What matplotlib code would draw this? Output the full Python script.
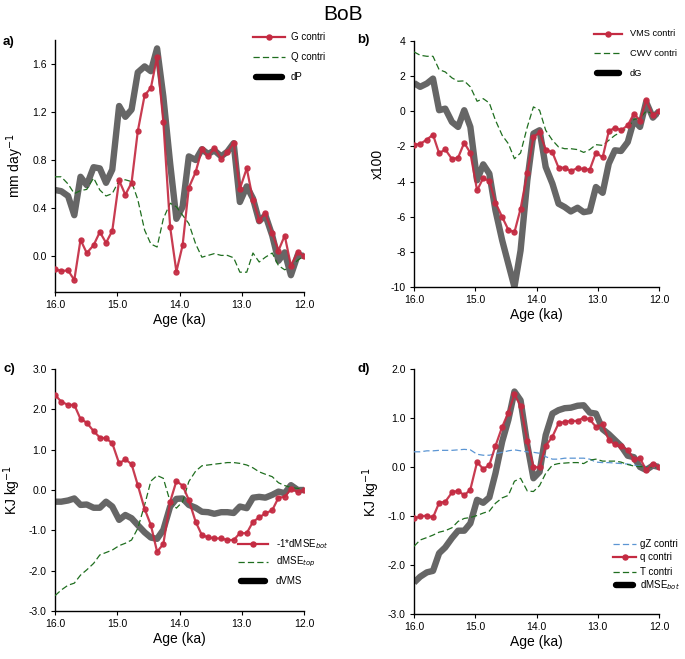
import numpy as np
import matplotlib
matplotlib.use('Agg')
import matplotlib.pyplot as plt
from matplotlib.lines import Line2D

plt.rcParams['font.family'] = ['Liberation Sans', 'DejaVu Sans']
plt.rcParams['axes.unicode_minus'] = False

# 40 samples between 16.0 and 12.0 ka
age = [16.00, 15.90, 15.79, 15.69, 15.59, 15.49, 15.38, 15.28, 15.18, 15.08,
       14.97, 14.87, 14.77, 14.67, 14.56, 14.46, 14.36, 14.26, 14.15, 14.05,
       13.95, 13.85, 13.74, 13.64, 13.54, 13.44, 13.33, 13.23, 13.13, 13.03,
       12.92, 12.82, 12.72, 12.62, 12.51, 12.41, 12.31, 12.21, 12.10, 12.00]

# a) precipitation decomposition (mm/day)
g_contri = [-0.11, -0.125, -0.12, -0.20, 0.135, 0.025, 0.09, 0.20, 0.11, 0.21,
            0.63, 0.51, 0.61, 1.04, 1.34, 1.40, 1.66, 1.12, 0.24, -0.13,
            0.09, 0.57, 0.70, 0.89, 0.83, 0.90, 0.81, 0.865, 0.945, 0.56,
            0.73, 0.47, 0.30, 0.355, 0.19, 0.045, 0.17, -0.08, 0.035, 0.0]
q_contri = [0.66, 0.66, 0.60, 0.52, 0.545, 0.555, 0.65, 0.55, 0.50, 0.52,
            0.63, 0.635, 0.62, 0.47, 0.215, 0.10, 0.075, 0.31, 0.44, 0.41,
            0.34, 0.27, 0.10, -0.01, 0.005, 0.02, 0.005, 0.005, -0.015, -0.135,
            -0.135, 0.025, -0.05, -0.01, 0.025, -0.08, -0.115, -0.09, -0.035, 0.0]
dP = [0.55, 0.54, 0.50, 0.34, 0.66, 0.59, 0.74, 0.73, 0.61, 0.72,
      1.25, 1.16, 1.22, 1.53, 1.58, 1.54, 1.73, 1.33, 0.77, 0.31,
      0.41, 0.83, 0.80, 0.89, 0.85, 0.88, 0.83, 0.87, 0.94, 0.45,
      0.58, 0.48, 0.29, 0.34, 0.17, -0.04, 0.03, -0.16, 0.01, 0.0]

# b) gross moist stability decomposition (x100)
vms_contri = [-1.90, -1.86, -1.61, -1.33, -2.39, -2.17, -2.72, -2.64, -1.79, -2.37,
              -4.50, -3.80, -3.97, -5.20, -6.02, -6.74, -6.88, -5.55, -3.51, -1.46,
              -1.20, -2.18, -2.34, -3.21, -3.21, -3.40, -3.23, -3.29, -3.32, -2.36,
              -2.62, -1.14, -0.93, -1.08, -0.80, -0.13, -0.53, 0.63, -0.23, 0.0]
cwv_contri = [3.38, 3.19, 3.13, 3.13, 2.37, 2.24, 1.90, 1.71, 1.73, 1.39,
              0.57, 0.72, 0.47, -0.51, -1.37, -1.84, -2.70, -2.37, -0.89, 0.25,
              0.06, -1.08, -1.65, -2.03, -2.13, -2.13, -2.18, -2.34, -2.18, -1.90,
              -1.94, -1.65, -1.37, -1.18, -0.95, -0.47, -0.38, 0.0, -0.13, 0.0]
dG = [1.61, 1.39, 1.58, 1.86, 0.06, 0.15, -0.61, -0.89, 0.06, -0.89,
      -3.93, -3.02, -3.55, -5.64, -7.35, -8.68, -10.0, -7.92, -3.93, -1.27,
      -1.08, -3.17, -4.12, -5.26, -5.45, -5.70, -5.49, -5.74, -5.68, -4.31,
      -4.64, -2.98, -2.22, -2.26, -1.75, -0.51, -0.89, 0.53, -0.36, 0.0]

# c) vertical MSE (KJ/kg)
neg_mse_bot = [2.36, 2.19, 2.11, 2.11, 1.76, 1.67, 1.46, 1.30, 1.28, 1.16,
               0.66, 0.76, 0.64, 0.12, -0.47, -0.87, -1.53, -1.34, -0.29, 0.22,
               0.11, -0.25, -0.79, -1.12, -1.17, -1.20, -1.20, -1.24, -1.24, -1.07,
               -1.07, -0.79, -0.68, -0.58, -0.50, -0.19, -0.17, 0.02, -0.04, 0.0]
mse_top = [-2.62, -2.48, -2.36, -2.31, -2.11, -1.98, -1.82, -1.61, -1.55, -1.49,
           -1.38, -1.32, -1.24, -0.95, -0.37, 0.22, 0.36, 0.29, -0.29, -0.45,
           -0.29, 0.21, 0.47, 0.60, 0.62, 0.64, 0.66, 0.68, 0.68, 0.66,
           0.62, 0.55, 0.45, 0.39, 0.33, 0.18, 0.11, 0.06, 0.04, 0.0]
dVMS = [-0.29, -0.29, -0.26, -0.21, -0.37, -0.36, -0.44, -0.44, -0.29, -0.41,
        -0.74, -0.62, -0.70, -0.87, -1.05, -1.18, -1.21, -0.99, -0.41, -0.22,
        -0.21, -0.37, -0.44, -0.54, -0.55, -0.59, -0.55, -0.55, -0.57, -0.41,
        -0.45, -0.19, -0.17, -0.19, -0.12, -0.04, -0.08, 0.12, 0.0, 0.0]

# d) lower-level MSE decomposition (KJ/kg)
gz_contri = [0.31, 0.31, 0.33, 0.33, 0.34, 0.34, 0.34, 0.35, 0.36, 0.35,
             0.26, 0.24, 0.24, 0.27, 0.30, 0.33, 0.35, 0.33, 0.31, 0.30,
             0.28, 0.21, 0.16, 0.16, 0.18, 0.18, 0.18, 0.18, 0.16, 0.10,
             0.09, 0.09, 0.08, 0.07, 0.06, 0.04, 0.02, 0.01, 0.0, 0.0]
q_mse = [-1.05, -1.01, -0.99, -1.03, -0.73, -0.71, -0.52, -0.48, -0.58, -0.46,
         0.10, -0.04, 0.04, 0.43, 0.82, 1.11, 1.48, 1.25, 0.53, 0.0,
         -0.01, 0.43, 0.62, 0.89, 0.92, 0.94, 0.94, 1.01, 0.97, 0.82,
         0.87, 0.55, 0.46, 0.42, 0.35, 0.16, 0.18, -0.06, 0.07, 0.0]
t_contri = [-1.62, -1.49, -1.44, -1.39, -1.33, -1.30, -1.24, -1.11, -1.05, -1.03,
            -0.99, -0.94, -0.90, -0.74, -0.63, -0.58, -0.29, -0.23, -0.49, -0.50,
            -0.38, -0.13, 0.04, 0.07, 0.08, 0.09, 0.09, 0.07, 0.14, 0.16,
            0.12, 0.12, 0.12, 0.10, 0.05, 0.02, 0.01, 0.0, 0.0, 0.0]
mse_bot = [-2.36, -2.24, -2.15, -2.12, -1.76, -1.64, -1.45, -1.30, -1.30, -1.15,
           -0.67, -0.73, -0.62, -0.13, 0.52, 0.96, 1.54, 1.36, 0.45, -0.23,
           -0.10, 0.65, 1.09, 1.16, 1.20, 1.21, 1.25, 1.26, 1.11, 1.09,
           0.77, 0.67, 0.55, 0.43, 0.23, 0.20, 0.0, -0.06, 0.03, 0.0]

RED = '#c42b42'
GRAY = '#666666'
GREEN = '#1f6e1f'
BLUE = '#5b95d3'
W, H = 685, 659

fig = plt.figure(figsize=(W / 100, H / 100), dpi=100)


def px_axes(left, top, right, bottom):
    return fig.add_axes([left / W, 1 - bottom / H, (right - left) / W, (bottom - top) / H])


def style(ax, ylim, yticks, fmt, ylabel):
    ax.set_xlim(16, 12)
    ax.set_ylim(*ylim)
    ax.set_xticks([16, 15, 14, 13, 12])
    ax.set_xticklabels(['16.0', '15.0', '14.0', '13.0', '12.0'])
    ax.set_yticks(yticks)
    ax.set_yticklabels([fmt % v for v in yticks])
    for s in ['top', 'right']:
        ax.spines[s].set_visible(False)
    for s in ['left', 'bottom']:
        ax.spines[s].set_linewidth(1.0)
    ax.tick_params(direction='out', length=3, width=0.8, labelsize=7.5, pad=3)
    ax.set_xlabel('Age (ka)', fontsize=10, labelpad=2)
    ax.set_ylabel(ylabel, fontsize=10, labelpad=4)


def thick(ax, y):
    ax.plot(age, y, color=GRAY, lw=4.6, solid_joinstyle='round', solid_capstyle='butt', zorder=2)


def dashed(ax, y, color):
    ax.plot(age, y, color=color, lw=0.9, ls=(0, (5, 2.5)), zorder=3)


def dotted_red(ax, y):
    ax.plot(age, y, color=RED, lw=1.6, marker='o', ms=3.6, alpha=0.92, zorder=4)


def key(x0, x1, xt, entries, size=7):
    for y, kind, label in entries:
        fy = 1 - y / H
        xs = [x0 / W, x1 / W]
        if kind == 'red':
            fig.add_artist(Line2D(xs, [fy, fy], color=RED, lw=1.6, transform=fig.transFigure))
            fig.add_artist(Line2D([(x0 + x1) / 2 / W], [fy], color=RED, marker='o', ms=3.6,
                                  transform=fig.transFigure))
        elif kind == 'thick':
            # round caps stick out ~3 px, so pull the ends in
            fig.add_artist(Line2D([(x0 + 3) / W, (x1 - 3) / W], [fy, fy], color='black', lw=4.6,
                                  solid_capstyle='round', transform=fig.transFigure))
        else:
            fig.add_artist(Line2D(xs, [fy, fy], color=kind, lw=0.9, ls=(0, (5, 2.5)),
                                  transform=fig.transFigure))
        fig.text(xt / W, fy, label, fontsize=size, va='center', ha='left')


# a)
ax = px_axes(55, 40, 304, 292)
thick(ax, dP)
dashed(ax, q_contri, GREEN)
dotted_red(ax, g_contri)
style(ax, (-0.3, 1.8), [0.0, 0.4, 0.8, 1.2, 1.6], '%.1f', 'mm day$^{-1}$')
key(253, 285, 291, [(37, 'red', 'G contri'), (57, GREEN, 'Q contri'), (77, 'thick', 'dP')])

# b)
ax = px_axes(414, 41, 659, 287)
thick(ax, dG)
dashed(ax, cwv_contri, GREEN)
dotted_red(ax, vms_contri)
style(ax, (-10, 4), [-10, -8, -6, -4, -2, 0, 2, 4], '%d', 'x100')
key(594, 622, 630, [(34, 'red', 'VMS contri'), (53, GREEN, 'CWV contri'), (73, 'thick', 'dG')],
    size=6.7)

# c)
ax = px_axes(55, 369, 304, 611)
thick(ax, dVMS)
dashed(ax, mse_top, GREEN)
dotted_red(ax, neg_mse_bot)
style(ax, (-3, 3), [-3.0, -2.0, -1.0, 0.0, 1.0, 2.0, 3.0], '%.1f', 'KJ kg$^{-1}$')
key(238, 268, 276, [(544, 'red', '-1*dMSE$_{bot}$'), (562, GREEN, 'dMSE$_{top}$'),
                    (581, 'thick', 'dVMS')])

# d)
ax = px_axes(414, 369, 659, 614)
thick(ax, mse_bot)
dashed(ax, gz_contri, BLUE)
dashed(ax, t_contri, GREEN)
dotted_red(ax, q_mse)
style(ax, (-3, 2), [-3.0, -2.0, -1.0, 0.0, 1.0, 2.0], '%.1f', 'KJ kg$^{-1}$')
key(613, 636, 640, [(544, BLUE, 'gZ contri'), (557, 'red', 'q contri'),
                    (572, GREEN, 'T contri'), (585, 'thick', 'dMSE$_{bot}$')])

for lab, x, y in [('a)', 3, 42), ('b)', 357, 40), ('c)', 3, 369), ('d)', 357, 369)]:
    fig.text(x / W, 1 - y / H, lab, fontsize=9.5, fontweight='bold', va='center', ha='left')

fig.text(343 / W, 1 - 14 / H, 'BoB', fontsize=15, ha='center', va='center')

fig.savefig('out.png', dpi=100)
